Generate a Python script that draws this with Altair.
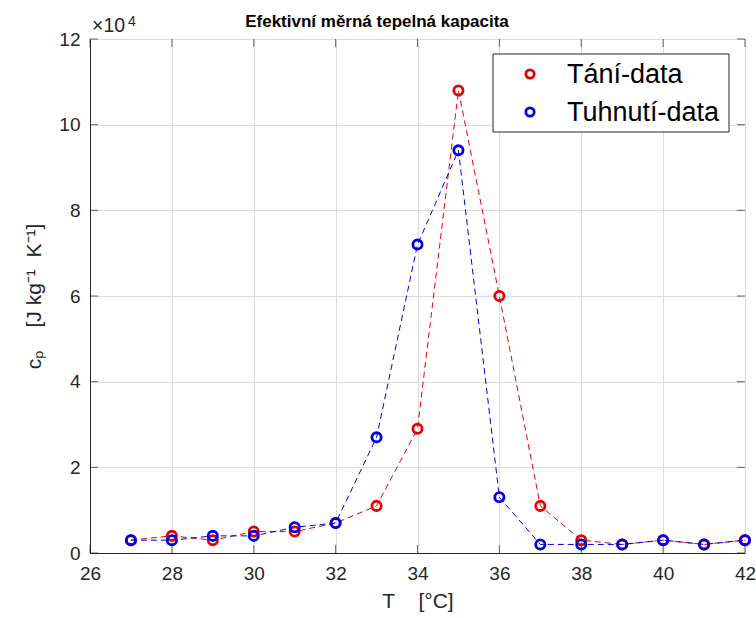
import altair as alt
import pandas as pd

# Data
temps = [27, 28, 29, 30, 31, 32, 33, 34, 35, 36, 37, 38, 39, 40, 41, 42]
cp_tani = [3000, 4000, 3000, 5000, 5000, 7000, 11000, 29000, 108000, 60000, 11000, 3000, 2000, 3000, 2000, 3000]
cp_tuhnuti = [3000, 3000, 4000, 4000, 6000, 7000, 27000, 72000, 94000, 13000, 2000, 2000, 2000, 3000, 2000, 3000]
series_names = ["Tání-data", "Tuhnutí-data"]
series_colors = ["#e60000", "#0000e0"]
x_ticks = [26, 28, 30, 32, 34, 36, 38, 40, 42]
y_ticks = [0, 20000, 40000, 60000, 80000, 100000, 120000]
title_text = "Efektivní měrná tepelná kapacita"

rows = []
for name, vals in zip(series_names, [cp_tani, cp_tuhnuti]):
    for t, v in zip(temps, vals):
        rows.append({"T": t, "cp": v, "series": name})
df = pd.DataFrame(rows)

FONT = "Liberation Sans"
TXT = "#262626"
NB = "\u00a0"

W, H = 655, 514

x_scale = alt.Scale(domain=[26, 42], nice=False, zero=False)
y_scale = alt.Scale(domain=[0, 120000], nice=False)

x_enc = alt.X(
    "T:Q",
    scale=x_scale,
    axis=alt.Axis(
        values=x_ticks,
        title="T" + NB * 4 + "[°C]",
        titleFontSize=21,
        titleFontWeight="normal",
        titleFont=FONT,
        titleColor=TXT,
        titlePadding=7,
        labelFontSize=19,
        labelFont=FONT,
        labelColor=TXT,
        labelPadding=11,
        ticks=False,
        domainColor=TXT,
        gridColor="#dcdcdc",
        labelFlush=False,
    ),
)
y_enc = alt.Y(
    "cp:Q",
    scale=y_scale,
    axis=alt.Axis(
        values=y_ticks,
        labelExpr="datum.value / 10000",
        title="cₚ" + NB * 4 + "[J" + NB + "kg⁻¹" + NB * 2 + "K⁻¹]",
        titleFontSize=21,
        titleFontWeight="normal",
        titleFont=FONT,
        titleColor=TXT,
        titlePadding=14,
        labelFontSize=19,
        labelFont=FONT,
        labelColor=TXT,
        labelPadding=10,
        ticks=False,
        domainColor=TXT,
        gridColor="#dcdcdc",
        labelFlush=False,
    ),
)

base = alt.Chart(df)

# inward ticks (MATLAB style) on all four sides
xt = alt.Chart(pd.DataFrame({"T": x_ticks}))
yt = alt.Chart(pd.DataFrame({"cp": y_ticks}))
tick_layers = [
    xt.mark_tick(orient="vertical", size=8, thickness=1, color=TXT).encode(x=x_enc, y=alt.value(H - 4)),
    xt.mark_tick(orient="vertical", size=8, thickness=1, color=TXT).encode(x=x_enc, y=alt.value(4)),
    yt.mark_tick(orient="horizontal", size=8, thickness=1, color=TXT).encode(y=y_enc, x=alt.value(4)),
    yt.mark_tick(orient="horizontal", size=8, thickness=1, color=TXT).encode(y=y_enc, x=alt.value(W - 4)),
]

line_layers = [
    base.transform_filter(alt.datum.series == name)
    .mark_line(strokeWidth=1, strokeDash=[6, 4], color=col)
    .encode(x=x_enc, y=y_enc)
    for name, col in zip(series_names, series_colors)
]

points = base.mark_point(filled=False, size=85, strokeWidth=2.8, shape="circle", opacity=1).encode(
    x=x_enc,
    y=y_enc,
    color=alt.Color("series:N", scale=alt.Scale(domain=series_names, range=series_colors), legend=None),
)

ann = pd.DataFrame({"a": [0]})
times10 = alt.Chart(ann).mark_text(
    text="×10", font=FONT, fontSize=19.5, color=TXT, align="left", baseline="alphabetic"
).encode(x=alt.value(2), y=alt.value(-7))
sup4 = alt.Chart(ann).mark_text(
    text="4", font=FONT, fontSize=14, color=TXT, align="left", baseline="alphabetic"
).encode(x=alt.value(38), y=alt.value(-13))
title = alt.Chart(ann).mark_text(
    text=title_text, font=FONT, fontSize=17, fontWeight="bold", color="#000000",
    align="center", baseline="alphabetic"
).encode(x=alt.value(287), y=alt.value(-12))

# legend box (MATLAB style: markers only)
LX0, LX1, LY0, LY1 = 403, 639, 15, 93
legend_box = alt.Chart(ann).mark_rect(fill="white", stroke=TXT, strokeWidth=1).encode(
    x=alt.value(LX0), x2=alt.value(LX1), y=alt.value(LY0), y2=alt.value(LY1)
)
legend_items = []
for i, (name, col) in enumerate(zip(series_names, series_colors)):
    yy = 35 + 38 * i
    legend_items.append(
        alt.Chart(ann).mark_point(filled=False, size=70, strokeWidth=2.8, shape="circle", color=col, opacity=1)
        .encode(x=alt.value(440), y=alt.value(yy))
    )
    legend_items.append(
        alt.Chart(ann).mark_text(text=name, font=FONT, fontSize=27, color="#000000", align="left", baseline="middle")
        .encode(x=alt.value(477), y=alt.value(yy + 1))
    )

chart = alt.layer(
    *tick_layers, *line_layers, points, times10, sup4, title, legend_box, *legend_items
).properties(
    width=W,
    height=H,
    autosize=alt.AutoSizeParams(type="none"),
    padding={"left": 90, "top": 39, "right": 11, "bottom": 65},
).configure_view(stroke=TXT, strokeWidth=1).configure(background="white")

chart.save("out.html", embed_options={"renderer": "svg", "actions": False})
